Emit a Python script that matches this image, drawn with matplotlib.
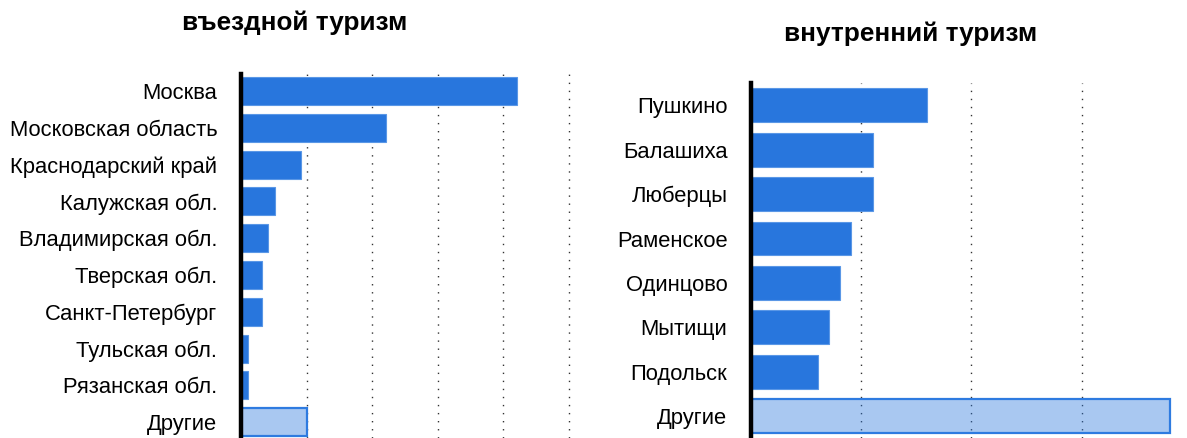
import matplotlib
matplotlib.use("Agg")
import matplotlib.pyplot as plt

plt.rcParams["font.family"] = ["Liberation Sans", "DejaVu Sans"]

# data (arbitrary units, gridline step = 1)
in_labels = ["Москва", "Московская область", "Краснодарский край", "Калужская обл.",
             "Владимирская обл.", "Тверская обл.", "Санкт-Петербург", "Тульская обл.",
             "Рязанская обл.", "Другие"]
in_values = [4.21, 2.21, 0.91, 0.52, 0.41, 0.32, 0.32, 0.11, 0.11, 1.0]

dom_labels = ["Пушкино", "Балашиха", "Люберцы", "Раменское", "Одинцово", "Мытищи",
              "Подольск", "Другие"]
dom_values = [1.60, 1.11, 1.11, 0.91, 0.81, 0.71, 0.61, 3.8]

BLUE = "#2876DD"
EDGE = "#5A97E6"
OTHER_FACE = (0x28 / 255, 0x76 / 255, 0xDD / 255, 0.4)
OTHER_EDGE = "#2E7BE0"


def draw(ax, labels, values, xmax, ylim, gridx):
    n = len(values)
    ys = list(range(n))
    bars = ax.barh(ys, values, height=0.76, color=BLUE, edgecolor=EDGE,
                   linewidth=0.8, zorder=2)
    bars[-1].set_facecolor(OTHER_FACE)
    bars[-1].set_edgecolor(OTHER_EDGE)
    bars[-1].set_linewidth(1.6)
    ax.set_yticks(ys)
    ax.set_yticklabels(labels, fontsize=15.8)
    ax.set_ylim(*ylim)
    ax.set_xlim(0, xmax)
    ax.set_xticks(gridx)
    ax.tick_params(axis="x", length=0, labelbottom=False)
    ax.tick_params(axis="y", length=0, pad=17)
    ax.grid(axis="x", color="#333333", linestyle=(0, (1, 4.8)), linewidth=1.0, zorder=0)
    ax.set_axisbelow(True)
    for s in ["top", "right", "bottom"]:
        ax.spines[s].set_visible(False)
    ax.spines["left"].set_linewidth(3.2)
    ax.spines["left"].set_zorder(3)


fig = plt.figure(figsize=(11.87, 4.38), dpi=100)
ax1 = fig.add_axes([0.203, 0.0, 0.293, 0.831])
ax2 = fig.add_axes([0.6327, 0.0, 0.362, 0.8105])

draw(ax1, in_labels, in_values, 5.3, (9.43, -0.46), [1, 2, 3, 4, 5])
draw(ax2, dom_labels, dom_values, 3.9, (7.49, -0.5), [1, 2, 3])

fig.text(0.2485, 0.948, "въездной туризм", ha="center", va="center",
         fontsize=18.8, fontweight="bold")
fig.text(0.7675, 0.922, "внутренний туризм", ha="center", va="center",
         fontsize=18.8, fontweight="bold")

fig.savefig("out.png", dpi=100)
